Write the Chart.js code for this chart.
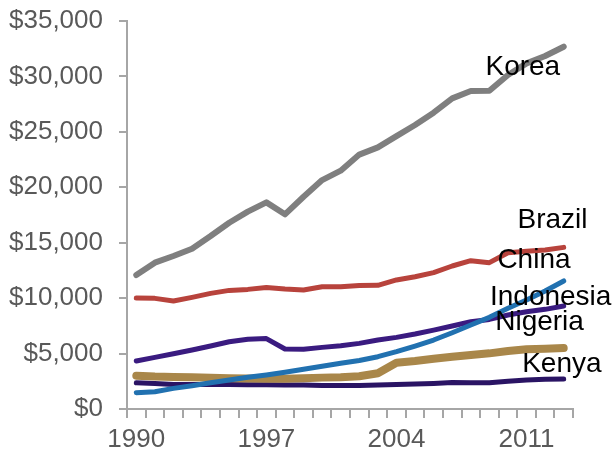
<!DOCTYPE html>
<html>
<head>
<meta charset="utf-8">
<script src="https://cdn.jsdelivr.net/npm/chart.js@4.4.1/dist/chart.umd.min.js"></script>
<style>
  body { margin: 0; background: #fff; }
  #wrap { width: 616px; height: 453px; }
</style>
</head>
<body>
<div id="wrap"><canvas id="myChart" width="616" height="453"></canvas></div>
<script>
// years on the x axis
var years = [];
for (var y = 1990; y <= 2013; y++) years.push(String(y));
var shownYears = ['1990', '1997', '2004', '2011'];

// GDP per capita (PPP)
var korea = [12090, 13200, 13800, 14460, 15600, 16800, 17800, 18640, 17560, 19150, 20650, 21500, 22950, 23600, 24620, 25620, 26730, 28020, 28680, 28710, 30130, 31180, 31840, 32680];
var brazil = [10010, 9980, 9740, 10070, 10430, 10700, 10790, 10970, 10820, 10730, 11030, 11030, 11150, 11160, 11640, 11930, 12300, 12900, 13380, 13200, 14100, 14220, 14340, 14580];
var china = [1470, 1560, 1860, 2100, 2370, 2620, 2860, 3070, 3310, 3580, 3850, 4120, 4380, 4720, 5170, 5680, 6220, 6880, 7580, 8270, 9080, 9830, 10640, 11550];
var indonesia = [4330, 4660, 4990, 5320, 5680, 6070, 6290, 6350, 5410, 5380, 5560, 5710, 5920, 6220, 6460, 6760, 7120, 7490, 7870, 8080, 8480, 8780, 8990, 9290];
var nigeria = [3010, 2930, 2890, 2860, 2830, 2780, 2750, 2740, 2740, 2770, 2830, 2860, 2950, 3220, 4180, 4330, 4540, 4720, 4870, 5020, 5230, 5380, 5440, 5500];
var kenya = [2370, 2310, 2220, 2220, 2220, 2210, 2190, 2190, 2160, 2160, 2130, 2130, 2120, 2160, 2220, 2250, 2310, 2400, 2370, 2370, 2500, 2620, 2680, 2710];

// text labels next to the lines (year, value)
var labelNames = ['Korea', 'Brazil', 'China', 'Indonesia', 'Nigeria', 'Kenya'];
var labelYears = [2010.8, 2012.4, 2011.4, 2012.3, 2011.7, 2012.9];
var labelValues = [30850, 17050, 13440, 10100, 7850, 4060];

var axisGray = '#a6a6a6';
var tickFont = { family: 'Liberation Sans, Arial, sans-serif', size: 26 };

function line(name, values, color, width) {
    return {
        label: name,
        data: values,
        borderColor: color,
        backgroundColor: color,
        borderWidth: width,
        pointRadius: 0,
        tension: 0,
        borderCapStyle: 'round',
        borderJoinStyle: 'round',
        fill: false
    };
}

// first dataset is drawn on top
var datasets = [
    line('Korea', korea, '#7f7f7f', 6),
    line('Brazil', brazil, '#b8433c', 5),
    line('China', china, '#2171b0', 5),
    line('Indonesia', indonesia, '#3a1b80', 5),
    line('Nigeria', nigeria, '#a9874a', 8),
    line('Kenya', kenya, '#2a1464', 5)
];

var lineLabels = {
    id: 'lineLabels',
    afterDatasetsDraw: function (chart) {
        var ctx = chart.ctx;
        var xs = chart.scales.x, ys = chart.scales.y;
        ctx.save();
        ctx.fillStyle = '#000';
        ctx.font = '28px Liberation Sans, Arial, sans-serif';
        ctx.textAlign = 'center';
        ctx.textBaseline = 'middle';
        for (var i = 0; i < labelNames.length; i++) {
            var px = xs.getPixelForValue(labelYears[i] - 1990);
            var py = ys.getPixelForValue(labelValues[i]);
            ctx.fillText(labelNames[i], px, py);
        }
        ctx.restore();
    }
};

var config = {
    type: 'line',
    data: { labels: years, datasets: datasets },
    options: {
        responsive: false,
        animation: false,
        layout: { padding: { top: 21, right: 43, left: 0, bottom: 0 } },
        plugins: { legend: { display: false }, tooltip: { enabled: false } },
        scales: {
            x: {
                offset: true,
                grid: { offset: true, drawOnChartArea: false, drawTicks: true, tickLength: 9, color: axisGray, lineWidth: 2 },
                border: { color: axisGray, width: 2 },
                ticks: {
                    autoSkip: false,
                    maxRotation: 0,
                    padding: 6,
                    color: '#595959',
                    font: tickFont,
                    callback: function (val, idx) {
                        var l = years[idx];
                        return shownYears.indexOf(l) >= 0 ? l : '';
                    }
                },
                afterFit: function (scale) {
                    scale.height = 44;
                    scale.paddingLeft = 0;
                    scale.paddingRight = 0;
                }
            },
            y: {
                min: 0,
                max: 35000,
                grid: { drawOnChartArea: false, drawTicks: true, tickLength: 8, color: axisGray, lineWidth: 2 },
                border: { color: axisGray, width: 2 },
                ticks: {
                    stepSize: 5000,
                    padding: 16,
                    color: '#595959',
                    font: tickFont,
                    callback: function (v) { return '$' + v.toLocaleString('en-US'); }
                },
                afterFit: function (scale) {
                    scale.width = 127;
                    // labels may hang over the top, the padding is set in layout
                    scale.paddingTop = 0;
                    scale.paddingBottom = 0;
                }
            }
        }
    },
    plugins: [lineLabels]
};

var myChart = new Chart(document.getElementById('myChart'), config);
</script>
</body>
</html>
